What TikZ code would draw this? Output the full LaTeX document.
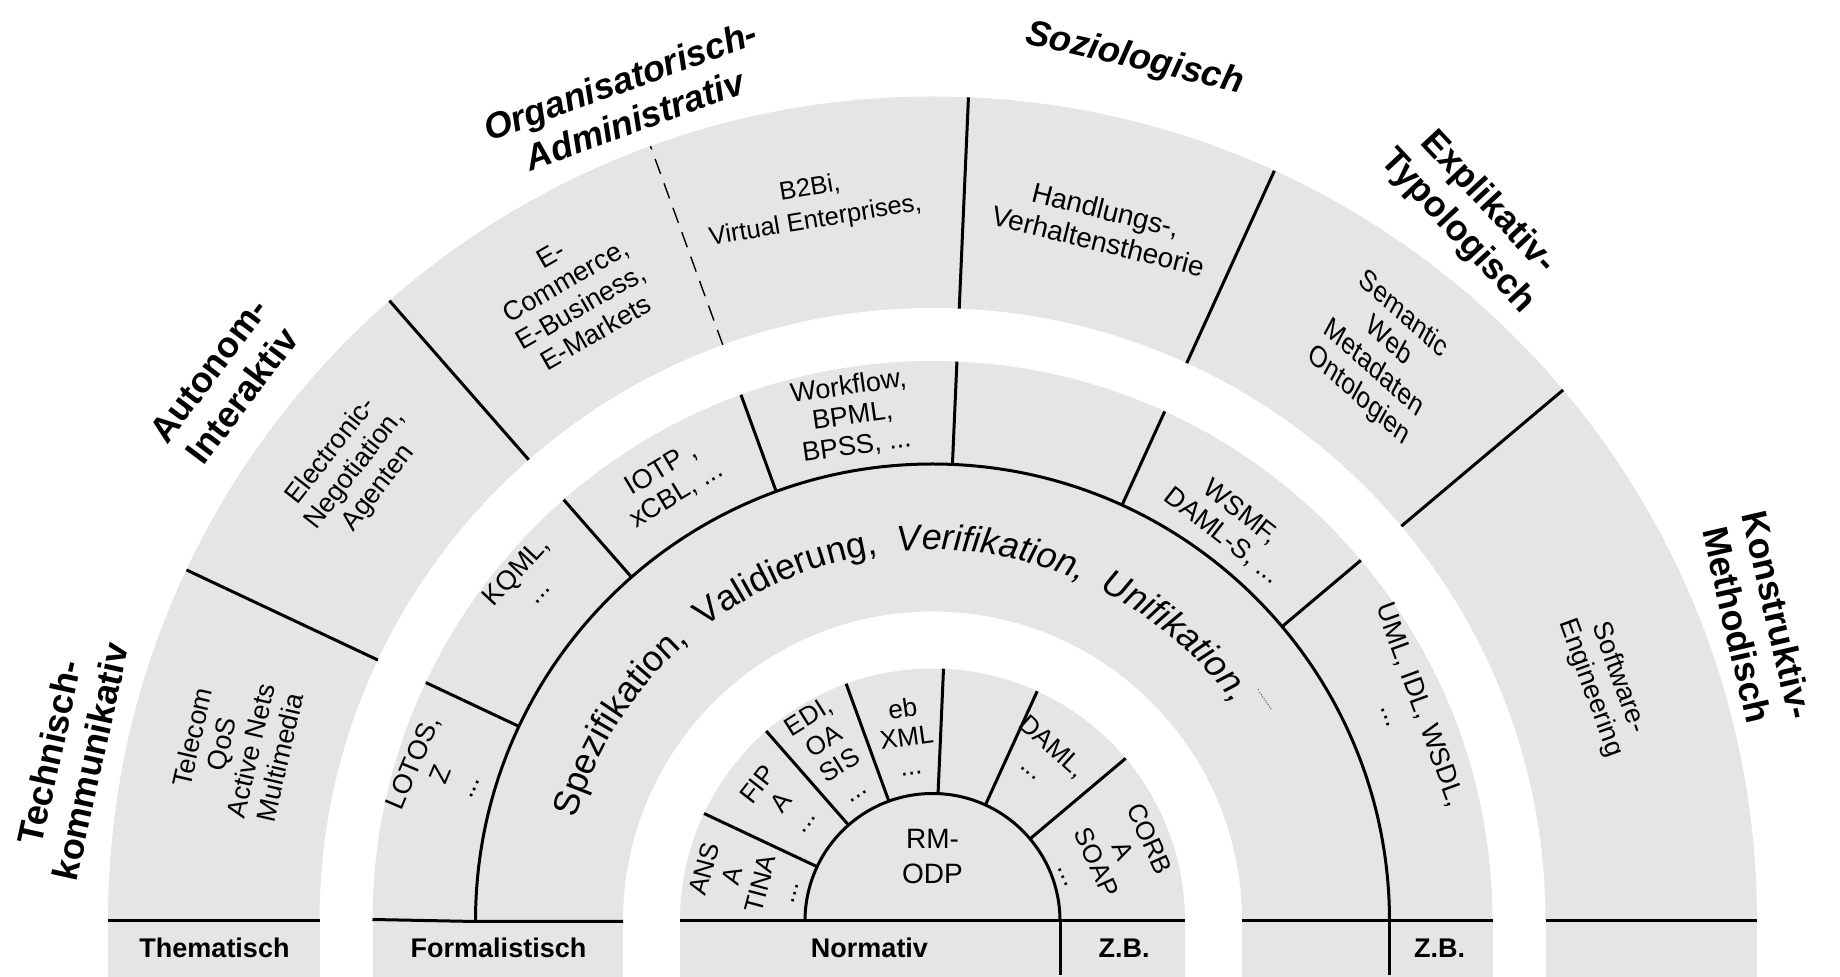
\documentclass[tikz,border=0pt]{standalone}
\usepackage{fontspec}
\setmainfont{Liberation Sans}
\usetikzlibrary{decorations.text}
\definecolor{bandgray}{RGB}{229,229,229}
\begin{document}
\begin{tikzpicture}[x=1pt,y=1pt,
  band/.style={fill=bandgray,draw=none},
  sep/.style={line width=3pt,black},
  sect/.style={font=\fontsize{27}{30}\selectfont,align=center,inner sep=0pt},
  sectin/.style={font=\fontsize{26}{29}\selectfont,align=center,inner sep=0pt},
  cat/.style={font=\bfseries\fontsize{36}{42}\selectfont,align=center,inner sep=0pt},
  catit/.style={font=\bfseries\itshape\fontsize{36}{42}\selectfont,align=center,inner sep=0pt},
  bot/.style={font=\bfseries\fontsize{27}{30}\selectfont,inner sep=0pt}]
\useasboundingbox (0,0) rectangle (1840,977);
\begin{scope}[shift={(932.5,56)}]
% ---- gray bands ----
\fill[band] (180:824.5pt) arc[start angle=180,end angle=0,radius=824.5pt]
  -- (0:613pt) arc[start angle=0,end angle=180,radius=613pt] -- cycle;
\fill[band] (-824.5,-56) rectangle (-613,0);
\fill[band] (613,-56) rectangle (824.5,0);
\fill[band] (180:560pt) arc[start angle=180,end angle=0,radius=560pt]
  -- (0:309.5pt) arc[start angle=0,end angle=180,radius=309.5pt] -- cycle;
\fill[band] (-560,-56) rectangle (-309.5,0);
\fill[band] (309.5,-56) rectangle (560,0);
\fill[band] (180:252.5pt) arc[start angle=180,end angle=0,radius=252.5pt] -- cycle;
\fill[band] (-252.5,-56) rectangle (252.5,0);
% ---- baselines ----
\draw[sep] (-824.5,0) -- (-613,0);
\draw[sep] (-560,1.5) -- (-457,-0.5) -- (-309.5,-0.5);
\draw[sep] (-252.5,0) -- (252.5,0);
\draw[sep] (309.5,0) -- (560,0);
\draw[sep] (613,0) -- (824.5,0);
\draw[sep] (127.5,0) -- (127.5,-54);
\draw[sep] (457,0) -- (457,-54);
% ---- arcs ----
\draw[sep] (180:457pt) arc[start angle=180,end angle=0,radius=457pt];
\draw[sep] (180:127.5pt) arc[start angle=180,end angle=0,radius=127.5pt];
% ---- radial dividers ----
\foreach \a in {154.8,131.2,87.5,65.5,40.1}
  \draw[sep] (\a:613pt) -- (\a:824.5pt);
\draw[line width=1.4pt,dash pattern=on 16pt off 10pt] (110:613pt) -- (110:824.5pt);
\foreach \a in {154.8,131.2,110,87.5,65.5,40.1}
  \draw[sep] (\a:457pt) -- (\a:560pt);
\foreach \a in {154.8,131.2,110,87.5,65.5,40.1}
  \draw[sep] (\a:127.5pt) -- (\a:252.5pt);
% ---- outer ring texts ----
\node[sect,rotate=77] (tele) at (166:718pt) {Telecom\\QoS\\Active Nets\\Multimedia};
\node[sect,rotate=52] (nego) at (142:733pt) {Electronic-\\Negotiation,\\Agenten};
\node[sect,rotate=30] (ecom) at (119.8:723pt) {E-\\Commerce,\\E-Business,\\E-Markets};
\node[sect,rotate=9.5,font=\fontsize{25.5}{33}\selectfont] (b2bi) at (99.5:726pt) {B2Bi,\\Virtual Enterprises,};
\node[sect,rotate=-14,font=\fontsize{28}{32}\selectfont] (hand) at (76.3:716pt) {Handlungs-,\\Verhaltenstheorie};
\node[sect,rotate=-42,xslant=-0.24] (sema) at (51.6:722pt) {Semantic\\Web\\Metadaten\\Ontologien};
\node[sect,rotate=-70] (soft) at (19.5:713pt) {Software-\\Engineering};
% ---- middle ring texts ----
\node[sect,rotate=67] (lotos) at (163.4:514pt) {LOTOS,\\Z\\...};
\node[sect,rotate=47] (kqml) at (140:530pt) {KQML,\\...};
\node[sect,rotate=31] (iotp) at (121:512pt) {IOTP ,\\xCBL, ...};
\node[sect,rotate=8] (wflow) at (99:511pt) {Workflow,\\BPML,\\BPSS, ...};
\node[sect,rotate=-38] (wsmf) at (53:497pt) {WSMF,\\DAML-S, ...};
\node[sect,rotate=-70] (uml) at (24:520pt) {UML, IDL, WSDL,\\...};
% ---- band text along arc ----
\path[decorate,decoration={text along path,
  text={|\fontsize{36}{36}\selectfont|Spezifikation,{\ }{\ }Validierung,{\ }{\ }|\itshape\fontsize{36}{36}\selectfont|Verifikation,{\ }{\ }Unifikation,}}]
  (164:371pt) arc[start angle=164,end angle=20,radius=371pt];
\node[rotate=-57,font=\fontsize{9}{9}\selectfont,inner sep=0pt] (dots) at (33.6:399pt) {..........};
% ---- inner ring texts ----
\node[sectin,rotate=75] (ansa) at (167.6:191pt) {ANS\\A\\TINA\\...};
\node[sectin,rotate=52] (fipa) at (142:193pt) {FIP\\A\\...};
\node[sectin,rotate=32] (edi) at (121:196pt) {EDI,\\OA\\SIS\\...};
\node[sectin,rotate=8] (ebxml) at (98:186pt) {eb\\XML\\...};
\node[sectin,rotate=-42] (daml) at (56:198pt) {DAML,\\...};
\node[sectin,rotate=-66] (corba) at (20:189pt) {CORB\\A\\SOAP\\...};
\node[font=\fontsize{28}{35}\selectfont,align=center,inner sep=0pt] (rmodp) at (0,64) {RM-\\ODP};
% ---- bottom labels ----
\node[bot] (them) at (-718,-27) {Thematisch};
\node[bot] (form) at (-434,-27) {Formalistisch};
\node[bot] (norm) at (-63,-27) {Normativ};
\node[bot] (zb1) at (191.5,-27) {Z.B.};
\node[bot] (zb2) at (507,-27) {Z.B.};
% ---- category labels ----
\node[cat,rotate=77.5] (techn) at (-862.5,164) {Technisch-\\kommunikativ};
\node[cat,rotate=53] (auton) at (-707,538) {Autonom-\\Interaktiv};
\node[catit,rotate=20] (organ) at (-305,821) {Organisatorisch-\\Administrativ};
\node[catit,rotate=-13] (sozio) at (202,862) {Soziologisch};
\node[cat,rotate=-47] (expli) at (540,704) {Explikativ-\\Typologisch};
\node[cat,rotate=-77] (konst) at (825,301) {Konstruktiv-\\Methodisch};
\end{scope}
\end{tikzpicture}
\end{document}
